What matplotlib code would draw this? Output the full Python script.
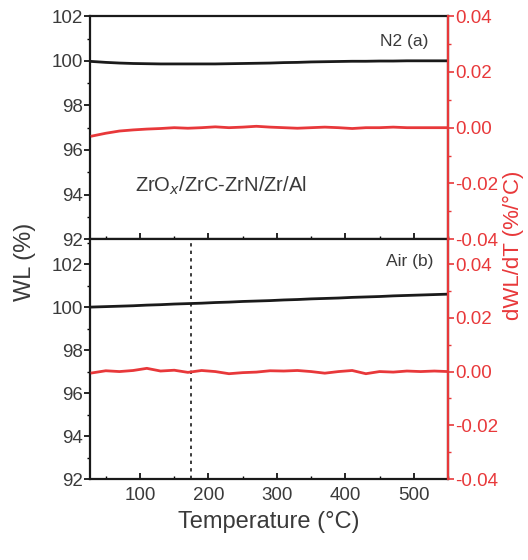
import matplotlib
matplotlib.use("Agg")
import matplotlib.pyplot as plt
from matplotlib.ticker import MultipleLocator, FixedLocator

plt.rcParams['font.family'] = ['Liberation Sans', 'DejaVu Sans']

# ---- data ----
temp = [30, 50, 70, 90, 110, 130, 150, 170, 190, 210, 230, 250, 270, 290, 310,
        330, 350, 370, 390, 410, 430, 450, 470, 490, 510, 530, 550]
wl_n2 = [99.97, 99.93, 99.9, 99.88, 99.87, 99.86, 99.86, 99.86, 99.86, 99.86, 99.87, 99.88,
         99.89, 99.9, 99.92, 99.93, 99.95, 99.96, 99.97, 99.98, 99.98, 99.99, 99.99, 100.0,
         100.0, 100.0, 100.0]
dwl_n2 = [-0.003, -0.002, -0.0012, -0.0008, -0.0005, -0.0003, 0.0, -0.0002, 0.0, 0.0003,
          0.0, 0.0002, 0.0005, 0.0002, 0.0, -0.0002, 0.0, 0.0002, 0.0, -0.0003, 0.0, 0.0,
          0.0002, 0.0, 0.0, 0.0, 0.0]
wl_air = [100.0, 100.02, 100.04, 100.06, 100.09, 100.11, 100.14, 100.16, 100.18, 100.21,
          100.23, 100.26, 100.28, 100.3, 100.33, 100.35, 100.38, 100.4, 100.42, 100.45,
          100.47, 100.49, 100.52, 100.54, 100.56, 100.58, 100.6]
dwl_air = [-0.0005, 0.0003, 0.0, 0.0004, 0.0012, 0.0002, 0.0005, -0.0003, 0.0004, 0.0,
           -0.0008, -0.0004, -0.0002, 0.0003, 0.0002, 0.0004, 0.0, -0.0006, 0.0, 0.0004,
           -0.0008, 0.0, -0.0002, 0.0002, 0.0, 0.0002, 0.0]
marker_temp = 175

x_ticks = [100, 200, 300, 400, 500]
wl_ticks = [92, 94, 96, 98, 100, 102]
d_ticks = [-0.04, -0.02, 0.00, 0.02, 0.04]
d_labels = ['-0.04', '-0.02', '0.00', '0.02', '0.04']

RED = '#e8383a'
BLK = '#1a1a1a'
TXT = '#3a3a3a'
FS = 13.5

fig = plt.figure(figsize=(5.28, 5.6), dpi=100)
ax1 = fig.add_axes([0.1705, 0.573, 0.678, 0.398])
ax2 = fig.add_axes([0.1705, 0.1446, 0.678, 0.4284], sharex=ax1)

def style_left(ax, ylim):
    ax.set_xlim(27, 550)
    ax.set_ylim(*ylim)
    ax.yaxis.set_major_locator(FixedLocator(wl_ticks))
    ax.yaxis.set_minor_locator(MultipleLocator(1))
    ax.xaxis.set_major_locator(FixedLocator(x_ticks))
    ax.xaxis.set_minor_locator(MultipleLocator(50))
    ax.tick_params(axis='y', which='major', direction='out', length=4, width=1.2,
                   labelsize=FS, labelcolor=TXT, pad=1)
    ax.tick_params(axis='y', which='minor', direction='out', length=2.5, width=1.0)
    ax.tick_params(axis='x', which='major', direction='in', length=4, width=1.2,
                   labelsize=FS, labelcolor=TXT, top=False, pad=6)
    ax.tick_params(axis='x', which='minor', direction='in', length=2.5, width=1.0, top=False)
    for s in ax.spines.values():
        s.set_linewidth(1.6)
        s.set_color(BLK)

def style_right(ax, ylim):
    ax.set_ylim(*ylim)
    ax.yaxis.set_major_locator(FixedLocator(d_ticks))
    ax.set_yticklabels(d_labels)
    ax.yaxis.set_minor_locator(MultipleLocator(0.01))
    ax.tick_params(axis='y', which='major', direction='out', length=4, width=1.2,
                   colors=RED, labelsize=FS, pad=1)
    ax.tick_params(axis='y', which='minor', direction='out', length=2.5, width=1.0, colors=RED)
    ax.spines['right'].set_color(RED)
    ax.spines['right'].set_linewidth(1.6)
    for k in ('left', 'top', 'bottom'):
        ax.spines[k].set_visible(False)

# Top panel (N2)
style_left(ax1, (92, 102))
ax1.plot(temp, wl_n2, color=BLK, lw=2)
plt.setp(ax1.get_xticklabels(), visible=False)
ax1r = ax1.twinx()
style_right(ax1r, (-0.04, 0.04))
ax1r.plot(temp, dwl_n2, color=RED, lw=2)
ax1.text(0.945, 0.885, 'N2 (a)', transform=ax1.transAxes, ha='right', va='center',
         fontsize=12.5, color=TXT)
ax1.text(92, 94.4, 'ZrO$_x$/ZrC-ZrN/Zr/Al', ha='left', va='center', fontsize=14.5, color=TXT)

# Bottom panel (Air)
style_left(ax2, (92, 103.16))
ax2.plot(temp, wl_air, color=BLK, lw=2)
ax2.axvline(marker_temp, color=BLK, lw=1.2, ls=(0, (2, 2.5)))
ax2r = ax2.twinx()
style_right(ax2r, (-0.04, 0.0493))
ax2r.plot(temp, dwl_air, color=RED, lw=2)
ax2.text(0.96, 0.905, 'Air (b)', transform=ax2.transAxes, ha='right', va='center',
         fontsize=12.5, color=TXT)
ax2.set_xlabel('Temperature (°C)', fontsize=17, color=TXT, labelpad=5)

fig.text(0.047, 0.532, 'WL (%)', rotation=90, ha='center', va='center', fontsize=17, color=TXT)
fig.text(0.972, 0.562, 'dWL/dT (%/°C)', rotation=90, ha='center', va='center',
         fontsize=16, color=RED)

fig.savefig('out.png', dpi=100)
